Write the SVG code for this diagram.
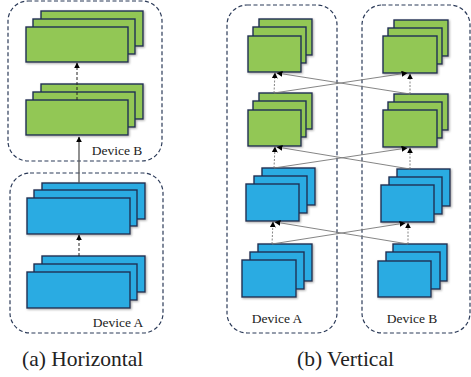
<svg xmlns="http://www.w3.org/2000/svg" width="471" height="377" viewBox="0 0 471 377">
<defs>
<style>
.dev{fill:none;stroke:#2b3a58;stroke-width:1.2;stroke-dasharray:4 2.5}
.g{fill:#92c755;stroke:#1d2f55;stroke-width:1.4}
.b{fill:#29abe2;stroke:#1d2f55;stroke-width:1.4}
.lbl{font-family:'Liberation Serif','DejaVu Serif',serif;font-size:13.5px;fill:#222;text-anchor:middle}
.cap{font-family:'Liberation Serif','DejaVu Serif',serif;font-size:21.5px;fill:#222}
.dash{stroke:#222;stroke-width:1;stroke-dasharray:3 2;fill:none;marker-end:url(#ah)}
.solid{stroke:#555;stroke-width:1.3;fill:none;marker-end:url(#ah)}
.dot{stroke:#777;stroke-width:0.9;stroke-dasharray:2 1.5;fill:none;marker-end:url(#ah)}
.x{stroke:#777;stroke-width:0.9;fill:none;marker-end:url(#ah)}
</style>
<marker id="ah" viewBox="0 0 10 10" refX="9" refY="5" markerWidth="6" markerHeight="6" markerUnits="userSpaceOnUse" orient="auto">
<path d="M0,0 L10,5 L0,10 z" fill="#000"/>
</marker>
<filter id="sh" x="-10%" y="-10%" width="130%" height="130%">
<feDropShadow dx="1" dy="1" stdDeviation="0.8" flood-color="#888" flood-opacity="0.7"/>
</filter>
</defs>

<!-- (a) Horizontal -->
<g id="deviceB-a">
<rect class="dev" x="8" y="1" width="154" height="160" rx="20"/>
<text class="lbl" x="117" y="155" font-family="Liberation Serif, serif">Device B</text>
</g>
<g id="deviceA-a">
<rect class="dev" x="10" y="173" width="153" height="160" rx="20"/>
<text class="lbl" x="118" y="327" font-family="Liberation Serif, serif">Device A</text>
</g>
<g id="a-green-top" filter="url(#sh)">
<rect class="g" x="41" y="11" width="102" height="35"/>
<rect class="g" x="33" y="19" width="102" height="35"/>
<rect class="g" x="26" y="27" width="102" height="35"/>
</g>
<g id="a-green-bottom" filter="url(#sh)">
<rect class="g" x="41" y="84" width="102" height="35"/>
<rect class="g" x="33" y="92" width="102" height="35"/>
<rect class="g" x="26" y="100" width="102" height="35"/>
</g>
<g id="a-blue-top" filter="url(#sh)">
<rect class="b" x="42" y="183" width="103" height="36"/>
<rect class="b" x="34" y="190" width="103" height="36"/>
<rect class="b" x="27" y="198" width="103" height="36"/>
</g>
<g id="a-blue-bottom" filter="url(#sh)">
<rect class="b" x="42" y="256" width="103" height="36"/>
<rect class="b" x="34" y="264" width="103" height="36"/>
<rect class="b" x="27" y="272" width="103" height="36"/>
</g>

<!-- (b) Vertical -->
<g id="deviceA-b">
<rect class="dev" x="227" y="5" width="110" height="328" rx="20"/>
<text class="lbl" x="277" y="323" font-family="Liberation Serif, serif">Device A</text>
</g>
<g id="deviceB-b">
<rect class="dev" x="362" y="5" width="108" height="328" rx="20"/>
<text class="lbl" x="412" y="323" font-family="Liberation Serif, serif">Device B</text>
</g>
<g id="bA-green-top" filter="url(#sh)">
<rect class="g" x="259" y="19" width="53" height="36"/>
<rect class="g" x="253" y="27" width="53" height="36"/>
<rect class="g" x="248" y="36" width="53" height="36"/>
</g>
<g id="bA-green-2" filter="url(#sh)">
<rect class="g" x="259" y="93" width="53" height="36"/>
<rect class="g" x="253" y="101" width="53" height="36"/>
<rect class="g" x="248" y="110" width="53" height="36"/>
</g>
<g id="bB-green-top" filter="url(#sh)">
<rect class="g" x="394" y="20" width="54" height="36"/>
<rect class="g" x="388" y="28" width="54" height="36"/>
<rect class="g" x="383" y="36" width="54" height="37"/>
</g>
<g id="bB-green-2" filter="url(#sh)">
<rect class="g" x="394" y="94" width="54" height="36"/>
<rect class="g" x="388" y="102" width="54" height="36"/>
<rect class="g" x="383" y="110" width="54" height="37"/>
</g>
<g id="bA-blue-top" filter="url(#sh)">
<rect class="b" x="262" y="168" width="53" height="37"/>
<rect class="b" x="254" y="176" width="53" height="37"/>
<rect class="b" x="246" y="184" width="53" height="37"/>
</g>
<g id="bA-blue-bottom" filter="url(#sh)">
<rect class="b" x="258" y="244" width="54" height="37"/>
<rect class="b" x="250" y="252" width="54" height="37"/>
<rect class="b" x="242" y="260" width="54" height="37"/>
</g>
<g id="bB-blue-top" filter="url(#sh)">
<rect class="b" x="397" y="169" width="53" height="37"/>
<rect class="b" x="389" y="177" width="53" height="37"/>
<rect class="b" x="381" y="185" width="53" height="37"/>
</g>
<g id="bB-blue-bottom" filter="url(#sh)">
<rect class="b" x="393" y="244" width="54" height="37"/>
<rect class="b" x="386" y="252" width="54" height="37"/>
<rect class="b" x="378" y="261" width="53" height="36"/>
</g>

<g id="connectors">
<line class="dash" x1="77" y1="100" x2="77" y2="63"/>
<line class="solid" x1="79" y1="183" x2="79" y2="137"/>
<line class="dash" x1="79" y1="256" x2="79" y2="235"/>

<line class="dot" x1="274" y1="93" x2="275" y2="73"/>
<line class="x" x1="274" y1="93" x2="407" y2="73"/>
<line class="dot" x1="410" y1="94" x2="410" y2="74"/>
<line class="x" x1="410" y1="94" x2="277" y2="73"/>

<line class="dot" x1="274" y1="168" x2="275" y2="147"/>
<line class="x" x1="274" y1="168" x2="407" y2="148"/>
<line class="dot" x1="410" y1="169" x2="410" y2="148"/>
<line class="x" x1="410" y1="169" x2="277" y2="147"/>

<line class="dot" x1="272" y1="244" x2="273" y2="222"/>
<line class="x" x1="272" y1="244" x2="405" y2="223"/>
<line class="dot" x1="408" y1="244" x2="408" y2="223"/>
<line class="x" x1="408" y1="244" x2="275" y2="222"/>
</g>

<text class="cap" x="22" y="366" font-family="Liberation Serif, serif">(a)  Horizontal</text>
<text class="cap" x="297" y="366" font-family="Liberation Serif, serif">(b)  Vertical</text>
</svg>
